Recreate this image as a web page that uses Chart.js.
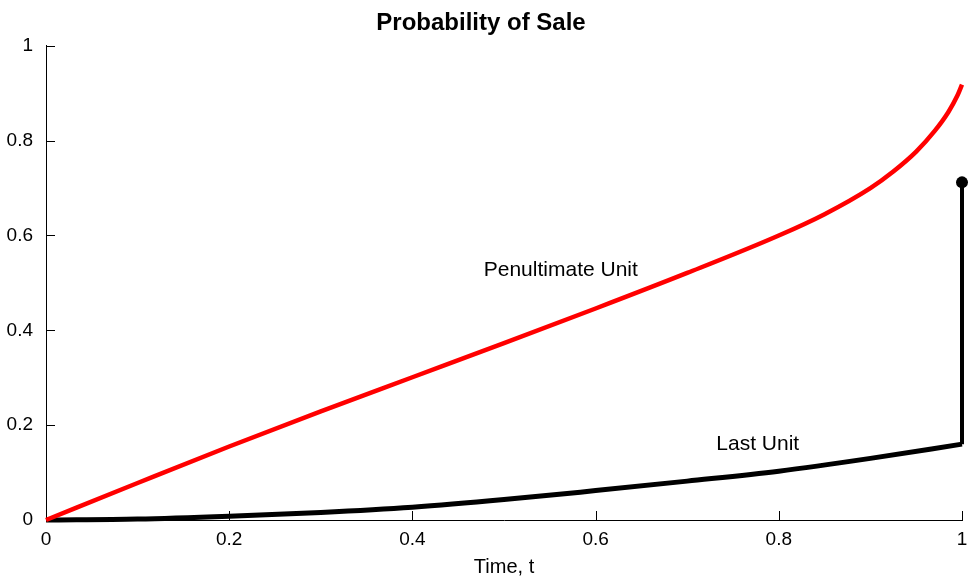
<!DOCTYPE html>
<html>
<head>
<meta charset="utf-8">
<title>Probability of Sale</title>
<script src="https://cdn.jsdelivr.net/npm/chart.js@4.4.1/dist/chart.umd.min.js"></script>
<style>
  html, body { margin: 0; padding: 0; background: #fff; }
  #wrap { width: 969px; height: 579px; }
</style>
</head>
<body>
<div id="wrap"><canvas id="myChart" width="969" height="579"></canvas></div>
<script>
// values
const tPenultimate = [0, 0.1, 0.2, 0.3, 0.4, 0.5, 0.6, 0.7, 0.8, 0.85, 0.9, 0.925, 0.95, 0.97, 0.985, 0.995, 1.0];
const pPenultimate = [0, 0.078, 0.155, 0.229, 0.301, 0.373, 0.446, 0.521, 0.600, 0.645, 0.700, 0.735, 0.777, 0.820, 0.860, 0.895, 0.918];

const tLast = [0, 0.1, 0.2, 0.3, 0.4, 0.5, 0.6, 0.7, 0.8, 0.9, 1.0];
const pLast = [0, 0.002, 0.008, 0.016, 0.027, 0.043, 0.062, 0.082, 0.103, 0.13, 0.16];

const tJump = [1.0, 1.0];
const pJump = [0.16, 0.712];

const xTicks = [0, 0.2, 0.4, 0.6, 0.8, 1];
const yTicks = [0, 0.2, 0.4, 0.6, 0.8, 1];

const curveLabels = ['Penultimate Unit', 'Last Unit'];
const curveLabelX = [0.562, 0.777];
const curveLabelY = [0.527, 0.159];

function pares(xs, ys) {
	return xs.map(function(x, i) { return { x: x, y: ys[i] }; });
}

// ticks pointing into the plot, like the original
const ticksDentro = {
	id: 'ticksDentro',
	beforeDatasetsDraw(chart) {
		const ctx = chart.ctx;
		const xs = chart.scales.x, ys = chart.scales.y;
		const area = chart.chartArea;
		ctx.save();
		ctx.strokeStyle = '#000';
		ctx.lineWidth = 1;
		ctx.beginPath();
		xTicks.forEach(function(v) {
			const px = Math.round(xs.getPixelForValue(v)) + 0.5;
			ctx.moveTo(px, area.bottom);
			ctx.lineTo(px, area.bottom - 9);
		});
		yTicks.forEach(function(v) {
			const py = Math.round(ys.getPixelForValue(v)) + 0.5;
			ctx.moveTo(area.left, py);
			ctx.lineTo(area.left + 9, py);
		});
		ctx.stroke();
		ctx.restore();
	}
};

const textoCurvas = {
	id: 'textoCurvas',
	afterDatasetsDraw(chart) {
		const ctx = chart.ctx;
		ctx.save();
		ctx.fillStyle = '#000';
		ctx.font = '21px "Liberation Sans", Arial, sans-serif';
		ctx.textAlign = 'center';
		ctx.textBaseline = 'middle';
		curveLabels.forEach(function(txt, i) {
			ctx.fillText(txt,
				chart.scales.x.getPixelForValue(curveLabelX[i]),
				chart.scales.y.getPixelForValue(curveLabelY[i]));
		});
		ctx.restore();
	}
};

function rotulo(value) {
	return String(Math.round(value * 10) / 10);
}

Chart.defaults.font.family = '"Liberation Sans", Arial, sans-serif';
Chart.defaults.color = '#000';

const ctx = document.getElementById('myChart').getContext('2d');

new Chart(ctx, {
	type: 'scatter',
	data: {
		datasets: [
			{
				label: 'Penultimate Unit',
				data: pares(tPenultimate, pPenultimate),
				showLine: true,
				borderColor: '#ff0000',
				borderWidth: 4.5,
				pointRadius: 0,
				cubicInterpolationMode: 'monotone',
				clip: false
			},
			{
				label: 'Last Unit',
				data: pares(tLast, pLast),
				showLine: true,
				borderColor: '#000000',
				borderWidth: 5,
				pointRadius: 0,
				cubicInterpolationMode: 'monotone',
				clip: false
			},
			{
				label: 'Last Unit jump',
				data: pares(tJump, pJump),
				showLine: true,
				borderColor: '#000000',
				backgroundColor: '#000000',
				borderWidth: 4,
				pointRadius: [0, 6],
				pointBorderWidth: 0,
				clip: false
			}
		]
	},
	options: {
		responsive: false,
		animation: false,
		layout: { padding: { left: 0, right: 7, top: 0, bottom: 0 } },
		plugins: {
			legend: { display: false },
			tooltip: { enabled: false },
			title: {
				display: true,
				text: 'Probability of Sale',
				font: { size: 24, weight: 'bold' },
				padding: { top: 9, bottom: 8 }
			}
		},
		scales: {
			x: {
				type: 'linear',
				min: 0,
				max: 1,
				afterFit: function(scale) {
					scale.height = 59;
					scale.paddingRight = 0;
					scale.paddingLeft = 0;
				},
				afterBuildTicks: function(scale) { scale.ticks = xTicks.map(function(v) { return { value: v }; }); },
				ticks: { font: { size: 19 }, padding: 8, maxRotation: 0, callback: rotulo },
				grid: { display: true, drawOnChartArea: false, drawTicks: false },
				border: { display: true, color: '#000', width: 1 },
				title: {
					display: true,
					text: 'Time, t',
					font: { size: 20 },
					padding: { top: 0, bottom: 0 }
				}
			},
			y: {
				type: 'linear',
				min: 0,
				max: 1,
				afterFit: function(scale) { scale.width = 46; },
				afterBuildTicks: function(scale) { scale.ticks = yTicks.map(function(v) { return { value: v }; }); },
				ticks: { font: { size: 19 }, padding: 13, callback: rotulo },
				grid: { display: true, drawOnChartArea: false, drawTicks: false },
				border: { display: true, color: '#000', width: 1 }
			}
		}
	},
	plugins: [ticksDentro, textoCurvas]
});
</script>
</body>
</html>
